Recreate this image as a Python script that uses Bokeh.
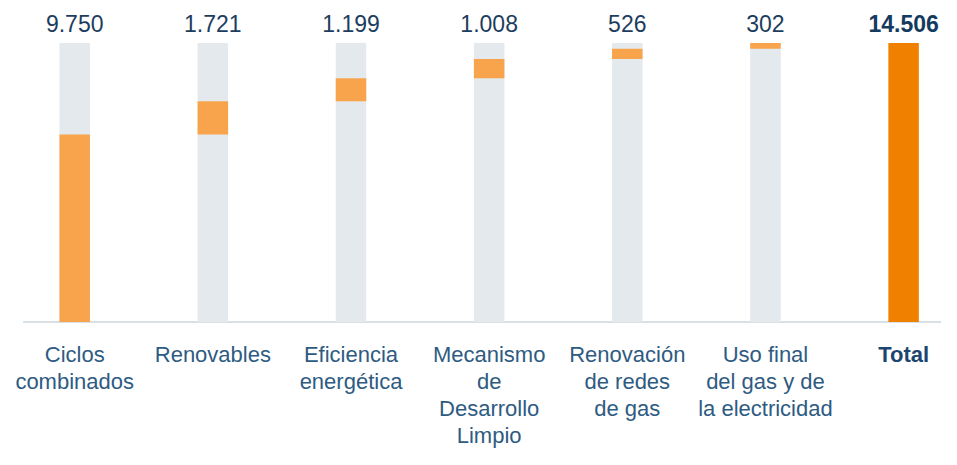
from bokeh.plotting import figure
from bokeh.models import Range1d, ColumnDataSource
from bokeh.core.properties import value
from bokeh.embed import file_html
from bokeh.resources import INLINE

# ---- data ----
categories = [
    "Ciclos\ncombinados",
    "Renovables",
    "Eficiencia\nenergética",
    "Mecanismo\nde\nDesarrollo\nLimpio",
    "Renovación\nde redes\nde gas",
    "Uso final\ndel gas y de\nla electricidad",
    "Total",
]
values = [9750, 1721, 1199, 1008, 526, 302]
total = 14506
value_labels = ["9.750", "1.721", "1.199", "1.008", "526", "302", "14.506"]

# ---- layout (pixels) ----
W, H = 941, 449
step_px = 138.15         # distance between bar centres
first_px = 74.2          # first bar centre from canvas left
zero_px = 321.5          # canvas y of value 0
top_px = 42.5            # canvas y of the total
u = total / (zero_px - top_px)   # data units per pixel

x_start = -first_px / step_px
x_end = x_start + W / step_px
y_start = -(H - zero_px) * u
y_end = total + top_px * u

FONT = "Liberation Sans"

n = len(categories)
xs = list(range(n))

bottoms, tops = [], []
acc = 0
for v in values:
    bottoms.append(acc)
    acc += v
    tops.append(acc)
bottoms.append(0)
tops.append(total)

p = figure(width=W, height=H, output_backend="svg", toolbar_location=None,
           x_range=Range1d(x_start, x_end), y_range=Range1d(y_start, y_end),
           min_border=0, min_border_left=0, min_border_right=0,
           min_border_top=0, min_border_bottom=0)
p.axis.visible = False
p.grid.visible = False
p.outline_line_color = None
p.background_fill_color = "white"
p.border_fill_color = "white"

bar_w = 30.5 / step_px

# baseline
p.segment(x0=[x_start + 22.6 / step_px], x1=[x_end + 1], y0=[0], y1=[0],
          line_color="#cbd5dd", line_width=1.5)

# grey background columns (not for total)
p.vbar(x=xs[:-1], width=bar_w, bottom=0, top=total,
       fill_color="#e4e9ed", line_color=None)

# floating orange bars
colors = ["#f7a44c"] * (n - 1) + ["#f08100"]
src = ColumnDataSource(dict(x=xs, bottom=bottoms, top=tops, color=colors))
p.vbar(x="x", width=bar_w, bottom="bottom", top="top", fill_color="color",
       line_color=None, source=src)

# value labels
styles = ["normal"] * (n - 1) + ["bold"]
vcol = ["#1d3d5e"] * (n - 1) + ["#143a60"]
lsrc = ColumnDataSource(dict(x=xs, y=[(zero_px - 22.5) * u] * n, t=value_labels,
                             st=styles, c=vcol))
p.text(x="x", y="y", text="t", source=lsrc, text_align="center",
       text_baseline="alphabetic", text_font=value(FONT), text_font_size="23px",
       text_font_style="st", text_color="c")

# category labels
ccol = ["#2e5b82"] * (n - 1) + ["#1c4670"]
csrc = ColumnDataSource(dict(x=xs, y=[-(341.5 - zero_px) * u] * n, t=categories,
                             st=styles, c=ccol))
p.text(x="x", y="y", text="t", source=csrc, text_align="center",
       text_baseline="top", text_font=value(FONT), text_font_size="22px",
       text_font_style="st", text_color="c", text_line_height=1.08)

open("out.html", "w").write(file_html(p, INLINE))
